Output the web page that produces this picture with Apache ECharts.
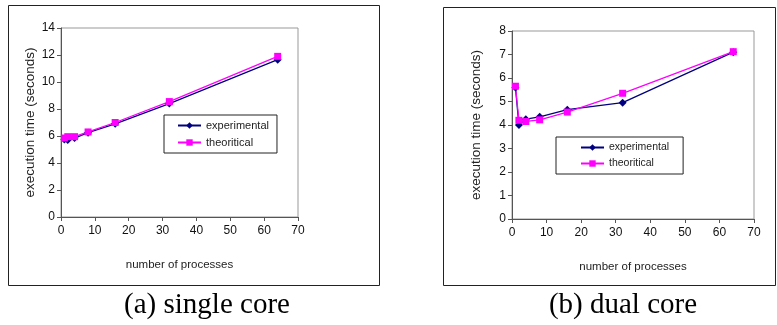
<!DOCTYPE html>
<html>
<head>
<meta charset="utf-8">
<script src="https://cdn.jsdelivr.net/npm/echarts@6/dist/echarts.min.js"></script>
<style>
  html, body { margin: 0; padding: 0; background: #fff; }
  #chart { width: 777px; height: 325px; }
</style>
</head>
<body>
<div id="chart"></div>
<script>
// number of processes
const processes = [1, 2, 4, 8, 16, 32, 64];

// (a) single core
const singleExperimental = [5.75, 5.7, 5.85, 6.25, 6.9, 8.4, 11.65];
const singleTheoritical = [5.85, 5.95, 5.95, 6.3, 7.0, 8.55, 11.9];

// (b) dual core
const dualExperimental = [5.6, 4.0, 4.25, 4.35, 4.65, 4.95, 7.1];
const dualTheoritical = [5.65, 4.2, 4.15, 4.22, 4.55, 5.35, 7.12];

const captions = ['(a) single core', '(b) dual core'];

const pairs = (ys) => processes.map((x, i) => [x, ys[i]]);

const chart = echarts.init(document.getElementById('chart'));

const font = 'Liberation Sans, Arial, sans-serif';
const axisCommon = {
  axisLine: { lineStyle: { color: '#555', width: 1 } },
  axisTick: { show: true, inside: false, length: 4, lineStyle: { color: '#555' } },
  axisLabel: { color: '#111', fontSize: 12, fontFamily: font },
  splitLine: { show: false },
  nameTextStyle: { color: '#222', fontSize: 11.5, fontFamily: font },
};

const xAxisOf = (gridIndex, nameGap) => ({
  ...axisCommon,
  gridIndex,
  type: 'value',
  min: 0,
  max: 70,
  interval: 10,
  name: 'number of processes',
  nameLocation: 'middle',
  nameGap,
  axisLabel: { ...axisCommon.axisLabel, margin: 8 },
});

const yAxisOf = (gridIndex, max, interval, nameGap) => ({
  ...axisCommon,
  gridIndex,
  type: 'value',
  min: 0,
  max,
  interval,
  name: 'execution time (seconds)',
  nameLocation: 'middle',
  nameGap,
  nameTextStyle: { ...axisCommon.nameTextStyle, fontSize: 13.5 },
  axisLabel: { ...axisCommon.axisLabel, margin: 6 },
});

const seriesOf = (name, data, idx, color, symbol) => ({
  type: 'line',
  name,
  data: pairs(data),
  xAxisIndex: idx,
  yAxisIndex: idx,
  symbol,
  symbolSize: symbol === 'diamond' ? 8 : 7,
  lineStyle: { color, width: 1.3 },
  itemStyle: { color },
  animation: false,
});

const legendOf = (left, top, padding, fontSize, itemGap) => ({
  data: ['experimental', 'theoritical'],
  left,
  top,
  orient: 'vertical',
  itemWidth: 23,
  itemHeight: 8,
  itemGap,
  padding,
  borderColor: '#222',
  borderWidth: 1,
  textStyle: { color: '#222', fontSize, fontFamily: font },
});

chart.setOption({
  animation: false,
  graphic: [
    { type: 'rect', shape: { x: 8.5, y: 5.5, width: 371, height: 280 }, style: { fill: 'none', stroke: '#222', lineWidth: 1 } },
    { type: 'rect', shape: { x: 443.5, y: 7.5, width: 332, height: 278 }, style: { fill: 'none', stroke: '#222', lineWidth: 1 } },
    { type: 'text', x: 207, y: 305, style: { text: captions[0], font: '29px "Liberation Serif", "Times New Roman", serif', fill: '#000', textAlign: 'center', textVerticalAlign: 'middle' } },
    { type: 'text', x: 623, y: 305, style: { text: captions[1], font: '29px "Liberation Serif", "Times New Roman", serif', fill: '#000', textAlign: 'center', textVerticalAlign: 'middle' } },
  ],
  grid: [
    { left: 61, top: 28, width: 237, height: 189, show: true, borderColor: '#999', borderWidth: 1, backgroundColor: 'transparent' },
    { left: 512, top: 31, width: 242, height: 188, show: true, borderColor: '#999', borderWidth: 1, backgroundColor: 'transparent' },
  ],
  xAxis: [xAxisOf(0, 42), xAxisOf(1, 42)],
  yAxis: [yAxisOf(0, 14, 2, 24), yAxisOf(1, 8, 1, 29)],
  legend: [
    legendOf(164, 115, [5, 8, 5, 13], 11, 6),
    legendOf(556, 137, [5, 14, 5, 24], 10.5, 5),
  ],
  series: [
    seriesOf('experimental', singleExperimental, 0, '#000080', 'diamond'),
    seriesOf('theoritical', singleTheoritical, 0, '#ff00ff', 'rect'),
    seriesOf('experimental', dualExperimental, 1, '#000080', 'diamond'),
    seriesOf('theoritical', dualTheoritical, 1, '#ff00ff', 'rect'),
  ],
});
</script>
</body>
</html>
